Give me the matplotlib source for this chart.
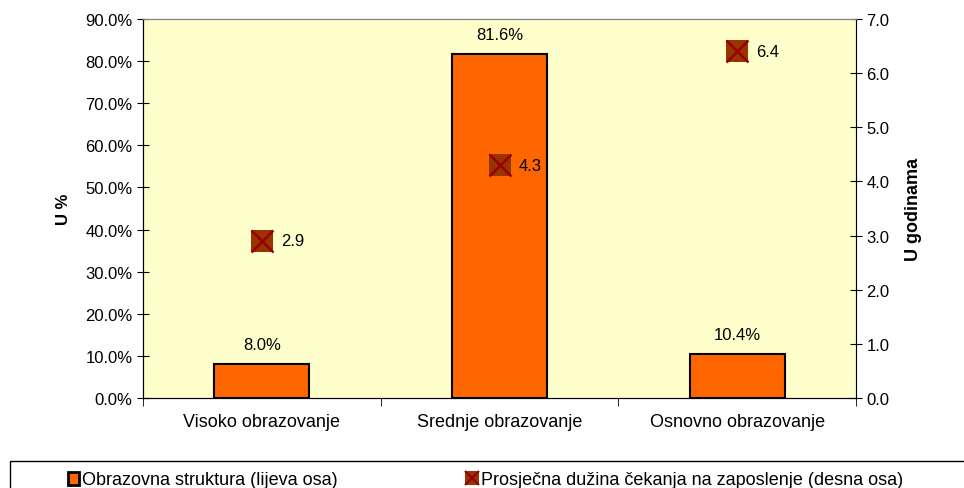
import numpy as np
import matplotlib.pyplot as plt
from matplotlib.patches import Rectangle
from matplotlib.lines import Line2D
from matplotlib.ticker import FuncFormatter, MultipleLocator, FixedLocator

categories = ['Visoko obrazovanje', 'Srednje obrazovanje', 'Osnovno obrazovanje']
struktura = [8.0, 81.6, 10.4]
cekanje = [2.9, 4.3, 6.4]

plt.rcParams['font.family'] = ['Liberation Sans', 'DejaVu Sans']
plt.rcParams['font.size'] = 12

fig = plt.figure(figsize=(9.64, 4.89), dpi=100)
ax = fig.add_axes([143 / 964, 1 - 399 / 489, (856 - 143) / 964, (399 - 20) / 489])
ax.set_facecolor('#FFFFCC')

x = np.arange(len(categories))
bars = ax.bar(x, struktura, width=0.40, color='#FF6600', edgecolor='black', linewidth=1.5, zorder=2)
for xi, v in zip(x, struktura):
    ax.text(xi, v + 3.0, f'{v:.1f}%', ha='center', va='bottom')

ax.set_xlim(-0.5, 2.5)
ax.set_ylim(0, 90)
ax.yaxis.set_major_locator(MultipleLocator(10))
ax.yaxis.set_major_formatter(FuncFormatter(lambda v, p: f'{v:.1f}%'))
ax.set_ylabel('U %', fontweight='bold', labelpad=10)
ax.set_xticks(x)
ax.set_xticklabels(categories, fontsize=13)
ax.tick_params(axis='x', length=0, pad=11)
ax.xaxis.set_minor_locator(FixedLocator([-0.5, 0.5, 1.5, 2.5]))
ax.tick_params(axis='x', which='minor', length=6, direction='out')
ax.tick_params(axis='y', direction='inout', length=8)
ax.spines['top'].set_color('#808080')
ax.spines['right'].set_color('#808080')

ax2 = ax.twinx()
ax2.set_ylim(0, 7)
ax2.yaxis.set_major_locator(MultipleLocator(1))
ax2.yaxis.set_major_formatter(FuncFormatter(lambda v, p: f'{v:.1f}'))
ax2.set_ylabel('U godinama', fontweight='bold', fontsize=13, labelpad=11)
ax2.tick_params(axis='y', direction='inout', length=8)
ax2.spines['right'].set_color('black')
ax2.spines['top'].set_color('#808080')
ax2.plot(x, cekanje, 's', ms=16.5, mfc='#993300', mec='#993300', mew=0, ls='none', zorder=3)
ax2.plot(x, cekanje, 'x', ms=16, mew=1.8, color='#990000', ls='none', zorder=4)
for xi, v in zip(x, cekanje):
    ax2.text(xi + 0.08, v, f'{v:.1f}', ha='left', va='center')

fig.patches.append(Rectangle((10 / 964, -0.1), 1, 1.1 - 462 / 489, transform=fig.transFigure,
                             fill=False, edgecolor='black', linewidth=1))
h1 = Rectangle((0, 0), 1, 1, facecolor='#FF6600', edgecolor='black', linewidth=2)
h2a = Line2D([], [], marker='s', ms=10, mfc='#993300', mec='#993300', mew=0, ls='none')
h2b = Line2D([], [], marker='x', ms=10, mew=1.5, color='#990000', ls='none')
leg_kw = dict(loc='center left', frameon=False, handlelength=0.6, handleheight=0.7,
              handletextpad=0.2, borderaxespad=0, borderpad=0, fontsize=13)
fig.legend([h1], ['Obrazovna struktura (lijeva osa)'],
           bbox_to_anchor=(68 / 964, 1 - 481 / 489), **leg_kw)
fig.legend([(h2a, h2b)], ['Prosječna dužina čekanja na zaposlenje (desna osa)'],
           bbox_to_anchor=(467 / 964, 1 - 481 / 489), **leg_kw)

fig.savefig('out.png', dpi=100)
